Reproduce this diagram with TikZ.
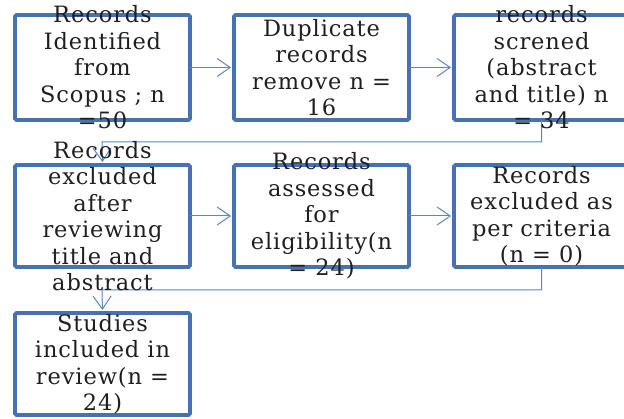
\documentclass[tikz,border=0pt]{standalone}
\usepackage{fontspec}
\setmainfont{DejaVu Serif}[LetterSpace=4]
\usetikzlibrary{arrows.meta}
\definecolor{boxblue}{RGB}{70,114,178}
\definecolor{linkblue}{RGB}{88,134,200}
\begin{document}
\begin{tikzpicture}[x=1pt,y=-1pt,
  box/.style={draw=boxblue,line width=3.8pt,rounded corners=1.5pt,minimum width=175pt,inner sep=0pt,outer sep=0pt},
  rowA/.style={minimum height=105pt},
  rowB/.style={minimum height=102pt},
  txt/.style={align=center,font=\fontsize{22.5}{26.5}\selectfont,inner sep=0pt,text=black!88},
  link/.style={draw=linkblue,line width=1pt,shorten >=3pt,-{Straight Barb[length=13pt,width=18pt,line width=1pt]}}
]
\useasboundingbox (0,0) rectangle (624,419);
\begin{scope}
\clip (0,0) rectangle (624,419);
\node[box,rowA] (b1) at (102.5,67.5) {};
\node[box,rowA] (b2) at (321.5,67.5) {};
\node[box,rowA] (b3) at (541.5,67.5) {};
\node[box,rowB] (b4) at (102.5,216) {};
\node[box,rowB] (b5) at (321.5,216) {};
\node[box,rowB] (b6) at (541.5,216) {};
\node[box,rowB] (b7) at (102.5,364) {};

\draw[link] (b1.east) -- (b2.west);
\draw[link] (b2.east) -- (b3.west);
\draw[link] (b4.east) -- (b5.west);
\draw[link] (b5.east) -- (b6.west);
\draw[link] (b3.south) |- (102,142) -- (b4.north);
\draw[link] (b6.south) |- (102,290) -- (b7.north);

\node[txt] (t1) at (b1) {Records\\Identified\\from\\Scopus ; n\\=50};
\node[txt] (t2) at (b2) {Duplicate\\records\\remove n =\\16};
\node[txt] (t3) at (b3) {records\\screned\\(abstract\\and title) n\\= 34};
\node[txt] (t4) at (b4) {Records\\excluded\\after\\reviewing\\title and\\abstract};
\node[txt] (t5) at (b5) {Records\\assessed\\for\\eligibility(n\\= 24)};
\node[txt] (t6) at (b6) {Records\\excluded as\\per criteria\\(n = 0)};
\node[txt] (t7) at (b7) {Studies\\included in\\review(n =\\24)};
\end{scope}
\end{tikzpicture}
\end{document}
